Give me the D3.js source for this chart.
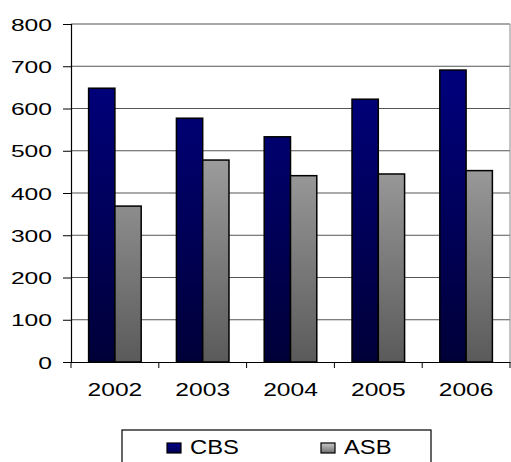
<!DOCTYPE html>
<html><head><meta charset="utf-8">
<script src="https://cdn.jsdelivr.net/npm/d3@7"></script>
<style>body{margin:0;background:#fff}svg{display:block}text{font-family:"Liberation Sans",Arial,sans-serif}</style>
</head><body><svg id="c" width="511" height="462"></svg>
<script>
const categories = ["2002","2003","2004","2005","2006"];
const seriesNames = ["CBS","ASB"];
const cbsValues = [648, 577, 533, 622, 691];
const asbValues = [369, 478, 441, 445, 453];
const yTicks = [0,100,200,300,400,500,600,700,800];

const svg = d3.select("#c");
const pLeft = 71, pRight = 510, pTop = 24, pBottom = 362;
const x = d3.scaleBand().domain(categories).range([pLeft, pRight]).padding(0);
const x1 = d3.scaleBand().domain(seriesNames).range([0, x.bandwidth()]).paddingInner(0).paddingOuter(0.67);
const y = d3.scaleLinear().domain([0, 800]).range([pBottom, pTop]);

const defs = svg.append("defs");
function grad(id, c1, c2){
  const g = defs.append("linearGradient").attr("id", id).attr("x1",0).attr("x2",0).attr("gradientUnits","userSpaceOnUse")
    .attr("y1", pTop).attr("y2", pBottom);
  g.append("stop").attr("offset","0%").attr("stop-color",c1);
  g.append("stop").attr("offset","100%").attr("stop-color",c2);
}
grad("gCBS", "#000088", "#000038");
grad("gASB", "#c8c8c8", "#5a5a5a");
const lg = defs.append("linearGradient").attr("id","lCBS").attr("x1",0).attr("y1",0).attr("x2",0).attr("y2",1);
lg.append("stop").attr("offset","0%").attr("stop-color","#000088");lg.append("stop").attr("offset","100%").attr("stop-color","#000050");
const lg2 = defs.append("linearGradient").attr("id","lASB").attr("x1",0).attr("y1",0).attr("x2",0).attr("y2",1);
lg2.append("stop").attr("offset","0%").attr("stop-color","#c8c8c8");lg2.append("stop").attr("offset","100%").attr("stop-color","#707070");

// gridlines
svg.append("g").selectAll("line").data(yTicks.filter(d=>d>0)).join("line")
  .attr("x1", pLeft).attr("x2", pRight).attr("y1", d=>y(d)).attr("y2", d=>y(d))
  .attr("stroke", "#555").attr("stroke-width", 1);
// right border
svg.append("line").attr("x1", pRight).attr("x2", pRight).attr("y1", pTop).attr("y2", pBottom).attr("stroke","#888");

// bars
const data = categories.map((c,i)=>({cat:c, vals:[{s:"CBS",v:cbsValues[i]},{s:"ASB",v:asbValues[i]}]}));
const groups = svg.append("g").selectAll("g").data(data).join("g").attr("transform", d=>`translate(${x(d.cat)},0)`);
groups.selectAll("rect").data(d=>d.vals).join("rect")
  .attr("x", d=>x1(d.s)).attr("width", x1.bandwidth())
  .attr("y", d=>y(d.v)).attr("height", d=>y(0)-y(d.v))
  .attr("fill", d=> d.s==="CBS" ? "url(#gCBS)" : "url(#gASB)")
  .attr("stroke", "#000").attr("stroke-width", 1.5);

// y axis
const yAxis = d3.axisLeft(y).tickValues(yTicks).tickSize(8).tickPadding(10);
const ya = svg.append("g").attr("transform", `translate(${pLeft},0)`).call(yAxis);
ya.select(".domain").attr("stroke","#000").attr("stroke-width",1.2);
ya.selectAll(".tick line").attr("stroke","#000");
ya.selectAll("text").attr("font-size", 17).attr("fill","#000").style("font-family","Liberation Sans, Arial")
  .attr("x", 0).attr("dy", "0.36em").attr("transform", "translate(-19,0) scale(1.45,1)");

// x axis
const xAxis = d3.axisBottom(x).tickSize(0).tickPadding(22);
const xa = svg.append("g").attr("transform", `translate(0,${pBottom})`).call(xAxis);
xa.select(".domain").attr("stroke","#000").attr("stroke-width",1.2);
xa.selectAll("text").attr("font-size", 18.5).attr("fill","#000").style("font-family","Liberation Sans, Arial")
  .attr("y", 0).attr("dy", 0).attr("transform", "translate(0,33.5) scale(1.33,1)");
xa.append("g").selectAll("line").data(categories.concat(["end"])).join("line")
  .attr("x1", (d,i)=> i<categories.length ? x(d) : pRight).attr("x2", (d,i)=> i<categories.length ? x(d) : pRight)
  .attr("y1", 0).attr("y2", 6).attr("stroke","#000");

// legend
const legend = svg.append("g");
legend.append("rect").attr("x",122).attr("y",430).attr("width",309).attr("height",50).attr("fill","#fff").attr("stroke","#000").attr("stroke-width",1.2);
const legX = [167, 321];
seriesNames.forEach((s,i)=>{
  legend.append("rect").attr("x", legX[i]).attr("y", 443).attr("width", 14).attr("height", 10)
    .attr("fill", s==="CBS" ? "url(#lCBS)" : "url(#lASB)").attr("stroke","#000").attr("stroke-width",1.2);
  legend.append("text").attr("transform", `translate(${legX[i]+23},453.5) scale(1.22,1)`).attr("font-size", 19.5).attr("fill","#000").text(s);
});
</script></body></html>
